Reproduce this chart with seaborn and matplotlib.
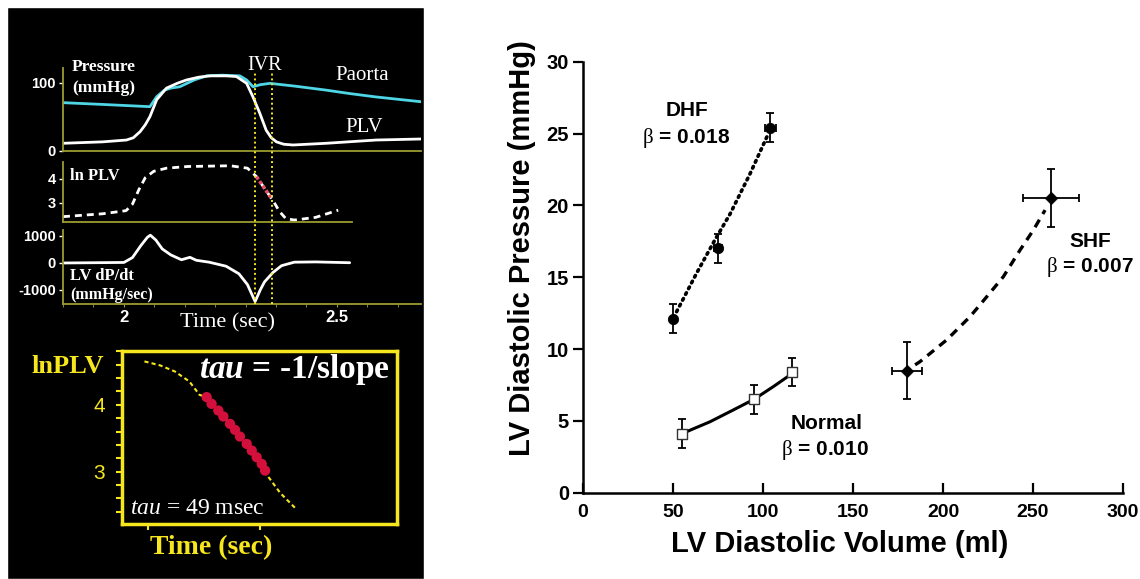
import matplotlib
matplotlib.use("Agg")
import matplotlib.pyplot as plt
from matplotlib.patches import Rectangle
from matplotlib.ticker import MultipleLocator
import seaborn as sns

W, H = 1140, 579

# ---------- left: pressure traces (time in sec) ----------
t_plv = [1.857, 1.95, 2.006, 2.022, 2.038, 2.05, 2.061, 2.077, 2.100, 2.125, 2.147, 2.175,
         2.202, 2.24, 2.264, 2.288, 2.303, 2.319, 2.334, 2.346, 2.358, 2.375, 2.397, 2.475,
         2.592, 2.697]
p_plv = [10.9, 13, 15.7, 19, 28, 38, 50, 75, 92, 99, 104, 108,
         110, 110, 109, 99, 79, 55, 30, 19, 13, 9.5, 8.4, 10.9,
         15.7, 17.2]

t_aorta = [1.857, 1.95, 2.061, 2.077, 2.095, 2.110, 2.131, 2.165, 2.194, 2.23, 2.272, 2.288,
           2.303, 2.32, 2.343, 2.40, 2.475, 2.53, 2.592, 2.697]
p_aorta = [70.6, 68, 64.7, 79.4, 89, 92, 94, 104, 110, 111, 110, 104,
           94, 97, 99, 95, 89, 84, 79, 72]

t_ln = [1.857, 1.95, 2.005, 2.02, 2.035, 2.05, 2.07, 2.10, 2.15, 2.25, 2.29, 2.305,
        2.311, 2.346, 2.35, 2.365, 2.38, 2.40, 2.45, 2.503]
ln_plv = [2.43, 2.55, 2.68, 2.95, 3.55, 4.05, 4.32, 4.45, 4.52, 4.55, 4.45, 4.2,
          4.1, 3.2, 3.1, 2.65, 2.35, 2.29, 2.4, 2.7]
t_ln_fit = [2.311, 2.346]
ln_fit = [4.1, 3.2]

t_dpdt = [1.857, 2.00, 2.02, 2.04, 2.055, 2.062, 2.075, 2.09, 2.11, 2.135, 2.155, 2.17,
          2.20, 2.24, 2.27, 2.29, 2.30, 2.308, 2.32, 2.33, 2.35, 2.37, 2.40, 2.45, 2.53]
dpdt = [0, 20, 200, 650, 950, 1030, 850, 520, 300, 120, 210, 100,
        30, -120, -400, -800, -1150, -1430, -1000, -700, -350, -100, 30, 40, 10]

ivr_times = [2.308, 2.347]

# ---------- left inset: lnPLV vs time (ms) ----------
fit_t = [-3, 11, 24, 37, 46, 52, 78, 104, 107, 118, 131]
fit_ln = [4.65, 4.59, 4.5, 4.35, 4.15, 4.115, 3.62, 3.02, 2.93, 2.68, 2.46]
dot_t = [52.4, 56.8, 62.8, 67.3, 73.2, 77.7, 82.1, 88.1, 92.6, 97.0, 101.5, 104.5]
dot_ln = [4.115, 4.015, 3.915, 3.825, 3.715, 3.625, 3.525, 3.415, 3.315, 3.215, 3.115, 3.015]

# ---------- right: LV diastolic P-V ----------
dhf_vol = [50, 75, 104]
dhf_p = [12.1, 17.0, 25.4]
dhf_perr = [1.0, 1.0, 1.0]
dhf_verr = [0, 2, 3]
normal_vol = [55, 95, 116]
normal_p = [4.1, 6.5, 8.4]
normal_perr = [1.0, 1.0, 1.0]
shf_vol = [180, 260]
shf_p = [8.5, 20.5]
shf_perr = [2.0, 2.0]
shf_verr = [8.3, 15.4]

dhf_curve_v = [52, 63.2, 73.3, 81.7, 92.8, 103]
dhf_curve_p = [12.6, 15.3, 17.6, 19.4, 22.2, 25.0]
normal_curve_v = [57.6, 70.6, 83.5, 95.0, 105.7, 115]
normal_curve_p = [4.25, 4.94, 5.76, 6.5, 7.38, 8.19]
shf_curve_v = [184.5, 187.2, 202, 215, 224.3, 233.5, 242.8, 250.2, 256.7]
shf_curve_p = [8.9, 9.12, 10.63, 12.25, 13.64, 15.03, 16.89, 18.28, 19.67]

sns.set_style("ticks")
plt.rcParams['font.family'] = ['Liberation Sans', 'DejaVu Sans']
plt.rcParams['mathtext.fontset'] = 'custom'
plt.rcParams['mathtext.rm'] = 'Liberation Serif'
plt.rcParams['mathtext.it'] = 'Liberation Serif:italic'
plt.rcParams['mathtext.bfit'] = 'Liberation Serif:italic:bold'
for k in ['text.color', 'axes.labelcolor', 'xtick.color', 'ytick.color', 'axes.edgecolor']:
    plt.rcParams[k] = 'black'

SERIF = 'Liberation Serif'
OLIVE = '#9c9c30'
YEL = '#f5e61e'


def box(l, t, r, b):
    return [l / W, 1 - b / H, (r - l) / W, (b - t) / H]


def ftext(x, y, s, **kw):
    kw.setdefault('ha', 'center')
    kw.setdefault('va', 'center')
    fig.text(x / W, 1 - y / H, s, **kw)


fig = plt.figure(figsize=(W / 100, H / 100), dpi=100)
fig.add_artist(Rectangle((7 / W, 0), (424 - 7) / W, 1 - 7 / H,
                         transform=fig.transFigure, facecolor='black', zorder=0))

T0 = 1.857


def trace_axes(l, t, r, b, ylim, yticks):
    ax = fig.add_axes(box(l, t, r, b))
    ax.set_facecolor('none')
    ax.set_xlim(T0, T0 + (r - l) / 426)
    ax.set_ylim(*ylim)
    ax.spines[['top', 'right']].set_visible(False)
    for s in ['left', 'bottom']:
        ax.spines[s].set_color(OLIVE)
        ax.spines[s].set_linewidth(1.3)
    ax.set_yticks(yticks)
    ax.set_yticklabels([str(v) for v in yticks], fontsize=10.5, fontweight='bold', color='white')
    ax.tick_params(axis='y', colors='white', length=3, width=1, pad=2)
    ax.set_xticks([])
    return ax


ax1 = trace_axes(63, 67.7, 421, 150.7, (0, 122), [0, 100])
sns.lineplot(x=t_aorta, y=p_aorta, ax=ax1, color='#4fd6e6', linewidth=2, estimator=None, sort=False)
sns.lineplot(x=t_plv, y=p_plv, ax=ax1, color='white', linewidth=2, estimator=None, sort=False)

ax2 = trace_axes(63, 161.7, 352, 221.7, (2.22, 4.72), [3, 4])
sns.lineplot(x=t_ln, y=ln_plv, ax=ax2, color='white', linewidth=2, estimator=None,
             sort=False, linestyle=(0, (2.5, 1.8)))
sns.lineplot(x=t_ln_fit, y=ln_fit, ax=ax2, color='#e0506a', linewidth=2.5, estimator=None,
             sort=False, linestyle=(0, (1, 0.6)))

ax3 = trace_axes(63, 230, 421, 304, (-1519, 1222), [-1000, 0, 1000])
sns.lineplot(x=t_dpdt, y=dpdt, ax=ax3, color='white', linewidth=2, estimator=None, sort=False)
ax3.set_xticks([2, 2.5])
ax3.set_xticklabels(['2', '2.5'], fontsize=12, fontweight='bold', color='white')
ax3.xaxis.set_minor_locator(MultipleLocator(0.5 / 7))
ax3.tick_params(axis='x', which='both', colors=OLIVE, labelcolor='white', length=2, pad=2)
for a in (ax1, ax2, ax3):
    a.set_xlabel('')
    a.set_ylabel('')

axv = fig.add_axes(box(63, 71, 421, 304))
axv.set_xlim(T0, T0 + 358 / 426)
axv.axis('off')
for tv in ivr_times:
    axv.axvline(tv, color=YEL, linestyle=(0, (1, 1.5)), linewidth=1.4)

ftext(72, 67, 'Pressure', ha='left', fontsize=12.5, fontweight='bold', family=SERIF, color='white')
ftext(72, 88, '(mmHg)', ha='left', fontsize=12.5, fontweight='bold', family=SERIF, color='white')
ftext(362, 75, 'Paorta', fontsize=15, family=SERIF, color='white')
ftext(364, 128, 'PLV', fontsize=15, family=SERIF, color='white')
ftext(265, 66, 'IVR', fontsize=14.5, family=SERIF, color='white')
ftext(70, 176, 'ln PLV', ha='left', fontsize=12, fontweight='bold', family=SERIF, color='white')
ftext(70, 276, 'LV dP/dt', ha='left', fontsize=12, fontweight='bold', family=SERIF, color='white')
ftext(70, 295, '(mmHg/sec)', ha='left', fontsize=11.5, fontweight='bold', family=SERIF, color='white')
ftext(228, 323, 'Time (sec)', fontsize=16, family=SERIF, color='white')

# inset
axi = fig.add_axes(box(122, 350.7, 397, 524))
axi.set_facecolor('none')
axi.set_xlim(-23, 222)
axi.set_ylim(2.216, 4.81)
for s in axi.spines.values():
    s.set_color(YEL)
    s.set_linewidth(2.5)
sns.lineplot(x=fit_t, y=fit_ln, ax=axi, color=YEL, linewidth=1.5, estimator=None,
             sort=False, linestyle=(0, (2, 1.5)))
sns.scatterplot(x=dot_t, y=dot_ln, ax=axi, s=55, color='#d3103c', edgecolor='none', zorder=3)
axi.set_yticks([3, 4])
axi.set_yticklabels(['3', '4'], fontsize=15, color=YEL)
axi.yaxis.set_minor_locator(MultipleLocator(0.2))
axi.set_xticks([0, 100])
axi.set_xticklabels([])
axi.tick_params(which='both', colors=YEL, labelcolor=YEL, length=4, width=1.5, pad=8)
axi.set_xlabel('')
axi.set_ylabel('')
axi.text(0.28, 0.89, r'$\mathbfit{tau}$ = -1/slope', transform=axi.transAxes, fontsize=24,
         fontweight='bold', family=SERIF, color='white', va='center')
axi.text(0.03, 0.09, r'$\mathit{tau}$ = 49 msec', transform=axi.transAxes, fontsize=17,
         family=SERIF, color='white', va='center')
ftext(68, 366.7, 'lnPLV', fontsize=19, fontweight='bold', family=SERIF, color=YEL)
ftext(210.7, 547.7, 'Time (sec)', fontsize=20, fontweight='bold', family=SERIF, color=YEL)

# right panel
ax = fig.add_axes(box(583, 61.7, 1123, 492.7))
sns.lineplot(x=dhf_curve_v, y=dhf_curve_p, ax=ax, color='black', linewidth=2.6, estimator=None,
             sort=False, linestyle=(0, (0.5, 1.3)), dash_capstyle='round')
sns.lineplot(x=normal_curve_v, y=normal_curve_p, ax=ax, color='black', linewidth=2.2,
             estimator=None, sort=False)
sns.lineplot(x=shf_curve_v, y=shf_curve_p, ax=ax, color='black', linewidth=2.4, estimator=None,
             sort=False, linestyle=(0, (2.6, 2)))
ax.errorbar(dhf_vol, dhf_p, yerr=dhf_perr, xerr=dhf_verr, fmt='none', ecolor='black',
            elinewidth=1.3, capsize=3, capthick=1.3)
ax.errorbar(normal_vol, normal_p, yerr=normal_perr, fmt='none', ecolor='black',
            elinewidth=1.3, capsize=3, capthick=1.3)
ax.errorbar(shf_vol, shf_p, yerr=shf_perr, xerr=shf_verr, fmt='none', ecolor='black',
            elinewidth=1.3, capsize=3, capthick=1.3)
sns.scatterplot(x=dhf_vol, y=dhf_p, ax=ax, marker='o', s=55, color='black', edgecolor='black', zorder=4)
sns.scatterplot(x=normal_vol, y=normal_p, ax=ax, marker='s', s=50, color='white',
                edgecolor='#333333', linewidth=1, zorder=4)
sns.scatterplot(x=shf_vol, y=shf_p, ax=ax, marker='D', s=40, color='black', edgecolor='black', zorder=4)

ax.set_xlim(0, 300)
ax.set_ylim(0, 30)
ax.set_xticks(range(0, 301, 50))
ax.set_yticks(range(0, 31, 5))
sns.despine(ax=ax)
for s in ['left', 'bottom']:
    ax.spines[s].set_linewidth(1.8)
ax.tick_params(axis='x', direction='in', length=7, width=1.6, pad=8, labelsize=14)
ax.tick_params(axis='y', direction='out', length=7, width=1.6, pad=3, labelsize=14.5)
for lab in ax.get_xticklabels() + ax.get_yticklabels():
    lab.set_fontweight('bold')
ax.set_xlabel('LV Diastolic Volume (ml)', fontsize=21, fontweight='bold', va='top')
ax.set_ylabel('LV Diastolic Pressure (mmHg)', fontsize=21, fontweight='bold')
ax.xaxis.set_label_coords(0.476, -0.0866)
ax.yaxis.set_label_coords(-0.087, 0.568)

lab_kw = dict(ha='center', va='center', fontsize=15, fontweight='bold')
ax.text(57.6, 26.6, 'DHF', **lab_kw)
ax.text(57, 24.7, r'$\mathrm{\beta}$ = 0.018', **lab_kw)
ax.text(135.4, 4.83, 'Normal', **lab_kw)
ax.text(134.4, 2.97, r'$\mathrm{\beta}$ = 0.010', **lab_kw)
ax.text(281.7, 17.47, 'SHF', **lab_kw)
ax.text(281.7, 15.73, r'$\mathrm{\beta}$ = 0.007', **lab_kw)

fig.savefig('out.png', dpi=100)
